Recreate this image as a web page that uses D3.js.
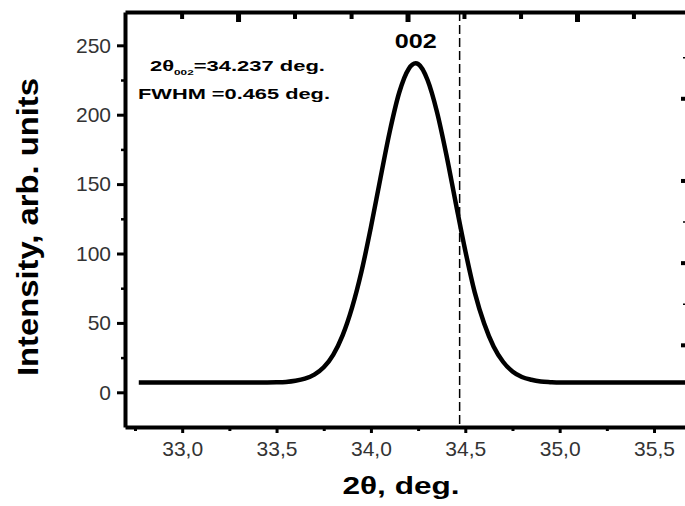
<!DOCTYPE html>
<html>
<head>
<meta charset="utf-8">
<script src="https://cdn.jsdelivr.net/npm/d3@7"></script>
<style>
  body { margin: 0; background: #fff; }
  svg { display: block; font-family: "Liberation Sans", Arial, sans-serif; }
</style>
</head>
<body>
<svg id="chart" width="685" height="506"></svg>
<script>
const twoTheta = [32.77, 33.0, 33.2, 33.4, 33.5, 33.55, 33.6, 33.65, 33.7, 33.75, 33.8, 33.85, 33.9, 33.95,
  34.0, 34.05, 34.1, 34.15, 34.2, 34.237, 34.25, 34.3, 34.35, 34.4, 34.45, 34.5, 34.55, 34.6,
  34.65, 34.7, 34.75, 34.8, 34.85, 34.9, 34.95, 35.0, 35.2, 35.4, 35.6, 35.68];
const intensity = [7, 7, 7, 7, 7.2, 7.5, 8.3, 9.8, 12.7, 18, 27, 41, 61, 87,
  119, 154, 188, 216, 233, 237, 236.5, 225, 202, 171, 136, 102, 72, 49.5,
  33, 22, 15, 11, 9, 7.8, 7.3, 7, 7, 7, 7, 7];

const xMajor = [33.0, 33.5, 34.0, 34.5, 35.0, 35.5];
const xMinor = [32.75, 33.25, 33.75, 34.25, 34.75, 35.25];
const yMajor = [0, 50, 100, 150, 200, 250];
const yMinor = [25, 75, 125, 175, 225];

// marks of the neighbouring (cropped) panel frame
const topMajor = [1, 2, 3];
const topMinor = [0.667, 1.333, 1.667, 2.333, 2.667, 3.333];
const rightMajor = [1, 2, 3, 4];
const rightMinor = [1.5, 2.5, 4.5];

const peakPos = 34.47; // dashed marker
const peakLabel = "002";

const svg = d3.select('#chart');
const margin = { top: 12, right: -3, bottom: 79, left: 125 };
const W = 685 - margin.left - margin.right;
const H = 506 - margin.top - margin.bottom;

const x = d3.scaleLinear().domain([32.697, 35.68]).range([0, W]);
const y = d3.scaleLinear().domain([-25, 274]).range([H, 0]);
const xTop = d3.scaleLinear().domain([0.333, 3.655]).range([0, W]);
const yRight = d3.scaleLinear().domain([0, 5.05]).range([H, 0]);

const g = svg.append('g').attr('transform', `translate(${margin.left},${margin.top})`);

const fmtX = d => d.toFixed(1).replace('.', ',');

// bottom axis
const bx = g.append('g').attr('transform', `translate(0,${H})`)
  .call(d3.axisBottom(x).tickValues(xMajor).tickFormat(fmtX).tickSize(6).tickSizeOuter(0).tickPadding(8));
bx.select('.domain').attr('stroke-width', 4);
bx.selectAll('.tick line').attr('stroke-width', 3);
bx.selectAll('.tick text').attr('font-size', 21).attr('fill', '#333');
g.append('g').attr('transform', `translate(0,${H})`)
  .call(d3.axisBottom(x).tickValues(xMinor).tickFormat('').tickSize(4).tickSizeOuter(0))
  .call(a => a.select('.domain').remove())
  .selectAll('.tick line').attr('stroke-width', 3);

// left axis
const ly = g.append('g')
  .call(d3.axisLeft(y).tickValues(yMajor).tickSize(8).tickSizeOuter(0).tickPadding(6));
ly.select('.domain').attr('stroke-width', 4);
ly.selectAll('.tick line').attr('stroke-width', 3);
ly.selectAll('.tick text').attr('font-size', 21).attr('fill', '#333');
g.append('g')
  .call(d3.axisLeft(y).tickValues(yMinor).tickFormat('').tickSize(4).tickSizeOuter(0))
  .call(a => a.select('.domain').remove())
  .selectAll('.tick line').attr('stroke-width', 2.5);

// top frame: ticks hang down into the plot
const tx = g.append('g')
  .call(d3.axisBottom(xTop).tickValues(topMajor).tickFormat('').tickSize(10).tickSizeOuter(0));
tx.select('.domain').attr('stroke-width', 4);
tx.selectAll('.tick line').attr('stroke-width', 5);
g.append('g')
  .call(d3.axisBottom(xTop).tickValues(topMinor).tickFormat('').tickSize(7).tickSizeOuter(0))
  .call(a => a.select('.domain').remove())
  .selectAll('.tick line').attr('stroke-width', 4);

// right frame (outside the window), inward ticks
const ry = g.append('g').attr('transform', `translate(${W},0)`)
  .call(d3.axisRight(yRight).tickValues(rightMajor).tickFormat('').tickSize(-7).tickSizeOuter(0));
ry.select('.domain').attr('stroke-width', 3);
ry.selectAll('.tick line').attr('stroke-width', 4);
g.append('g').attr('transform', `translate(${W},0)`)
  .call(d3.axisRight(yRight).tickValues(rightMinor).tickFormat('').tickSize(-5).tickSizeOuter(0))
  .call(a => a.select('.domain').remove())
  .selectAll('.tick line').attr('stroke-width', 1.5);

// dashed marker
g.append('line')
  .attr('x1', x(peakPos)).attr('x2', x(peakPos))
  .attr('y1', 0).attr('y2', H)
  .attr('stroke', '#000').attr('stroke-width', 1.5)
  .attr('stroke-dasharray', '9,4');

// curve
const pts = twoTheta.map((t, i) => [t, intensity[i]]);
g.append('path')
  .datum(pts)
  .attr('fill', 'none')
  .attr('stroke', '#000')
  .attr('stroke-width', 4.5)
  .attr('stroke-linejoin', 'round')
  .attr('d', d3.line().x(d => x(d[0])).y(d => y(d[1])).curve(d3.curveMonotoneX));

// peak label
g.append('text')
  .attr('x', x(34.237)).attr('y', 36)
  .attr('text-anchor', 'middle')
  .attr('font-size', 20).attr('font-weight', 'bold')
  .attr('textLength', 42).attr('lengthAdjust', 'spacingAndGlyphs')
  .text(peakLabel);

// annotation
const ann = g.append('text')
  .attr('x', 25).attr('y', 59)
  .attr('font-size', 15).attr('font-weight', 'bold')
  .attr('textLength', 175).attr('lengthAdjust', 'spacingAndGlyphs');
ann.append('tspan').text('2θ');
ann.append('tspan').attr('font-size', 8).attr('dy', 4).text('002');
ann.append('tspan').attr('dy', -4).text('=34.237 deg.');
g.append('text')
  .attr('x', 13).attr('y', 87)
  .attr('font-size', 15).attr('font-weight', 'bold')
  .attr('textLength', 192).attr('lengthAdjust', 'spacingAndGlyphs')
  .text('FWHM =0.465 deg.');

// axis titles
svg.append('text')
  .attr('transform', 'translate(38,227) rotate(-90)')
  .attr('text-anchor', 'middle')
  .attr('font-size', 30).attr('font-weight', 'bold')
  .attr('textLength', 298).attr('lengthAdjust', 'spacingAndGlyphs')
  .text('Intensity, arb. units');
svg.append('text')
  .attr('x', 401).attr('y', 494)
  .attr('text-anchor', 'middle')
  .attr('font-size', 23).attr('font-weight', 'bold')
  .attr('textLength', 117).attr('lengthAdjust', 'spacingAndGlyphs')
  .text('2θ, deg.');
</script>
</body>
</html>
